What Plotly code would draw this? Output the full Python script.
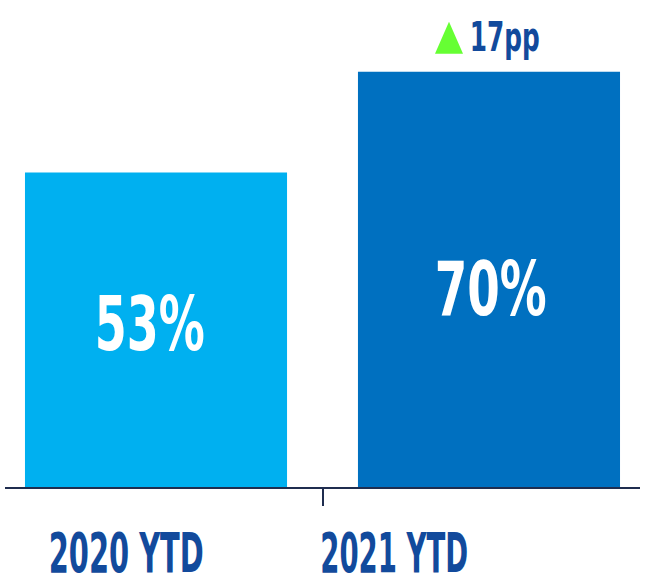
import plotly.graph_objects as go

categories = ["2020 YTD", "2021 YTD"]
values = [53, 70]
bar_colors = ["#00B0F0", "#0070C0"]
delta_label_unit = "pp"

FONT = "DejaVu Sans Condensed, DejaVu Sans, sans-serif"
NAVY = "#124A9C"
GREEN = "#66FF33"
AXIS = "#1F2D4F"

fig = go.Figure()
fig.add_trace(go.Bar(
    x=categories, y=values,
    marker=dict(color=bar_colors, line=dict(width=0)),
    width=0.787,
    hoverinfo="skip",
))

# value labels inside bars
val_shifts = [(-6, 5.5), (2, -10)]
for c, v, (dx, dy) in zip(categories, values, val_shifts):
    fig.add_annotation(x=c, y=v / 2, text=f"{v}%", showarrow=False,
                       xshift=dx, yshift=dy, yanchor="middle",
                       font=dict(family=FONT, size=75, color="white", weight="bold"))

# category labels
lab_shifts = [-30, -95]
for c, dx in zip(categories, lab_shifts):
    fig.add_annotation(x=c, y=-0.1345, yref="paper", text=c, showarrow=False,
                       xshift=dx, yanchor="middle",
                       font=dict(family=FONT, size=56, color=NAVY, weight="bold"))

# delta annotation
delta = values[1] - values[0]
fig.add_annotation(x=categories[1], y=values[1], text=f"{delta}{delta_label_unit}",
                   showarrow=False, xanchor="center", yanchor="middle",
                   xshift=16, yshift=34.5,
                   font=dict(family=FONT, size=40, color=NAVY, weight="bold"))
fig.add_shape(type="path", xref="x", yref="y",
              xsizemode="pixel", ysizemode="pixel",
              xanchor=1, yanchor=values[1],
              path="M -54,18 L -26,18 L -40,50 Z",
              fillcolor=GREEN, line=dict(width=0))

fig.update_layout(
    width=648, height=585,
    margin=dict(l=5, r=8, t=0, b=98),
    paper_bgcolor="white", plot_bgcolor="white",
    showlegend=False,
    xaxis=dict(type="category", range=[-0.4535, 1.4535],
               showline=True, linecolor=AXIS, linewidth=2,
               ticks="outside", tickson="boundaries", ticklen=17,
               tickwidth=2, tickcolor=AXIS,
               showticklabels=False, showgrid=False, zeroline=False,
               fixedrange=True),
    yaxis=dict(range=[0, 82.1], visible=False, showgrid=False,
               zeroline=False, fixedrange=True),
)

# condensed look (the original uses an Impact-like face): squeeze glyphs to target widths
post = """
document.body.style.margin = '0';
var gd = document.getElementById('{plot_id}');
var widths = {"2020 YTD":155, "2021 YTD":148, "53%":110, "70%":112, "17pp":70};
gd.querySelectorAll('text.annotation-text').forEach(function(t){
  var w = widths[t.textContent];
  if (w) { t.setAttribute('textLength', w); t.setAttribute('lengthAdjust', 'spacingAndGlyphs'); }
});
"""

fig.write_html("out.html", post_script=post, config={"displayModeBar": False})
